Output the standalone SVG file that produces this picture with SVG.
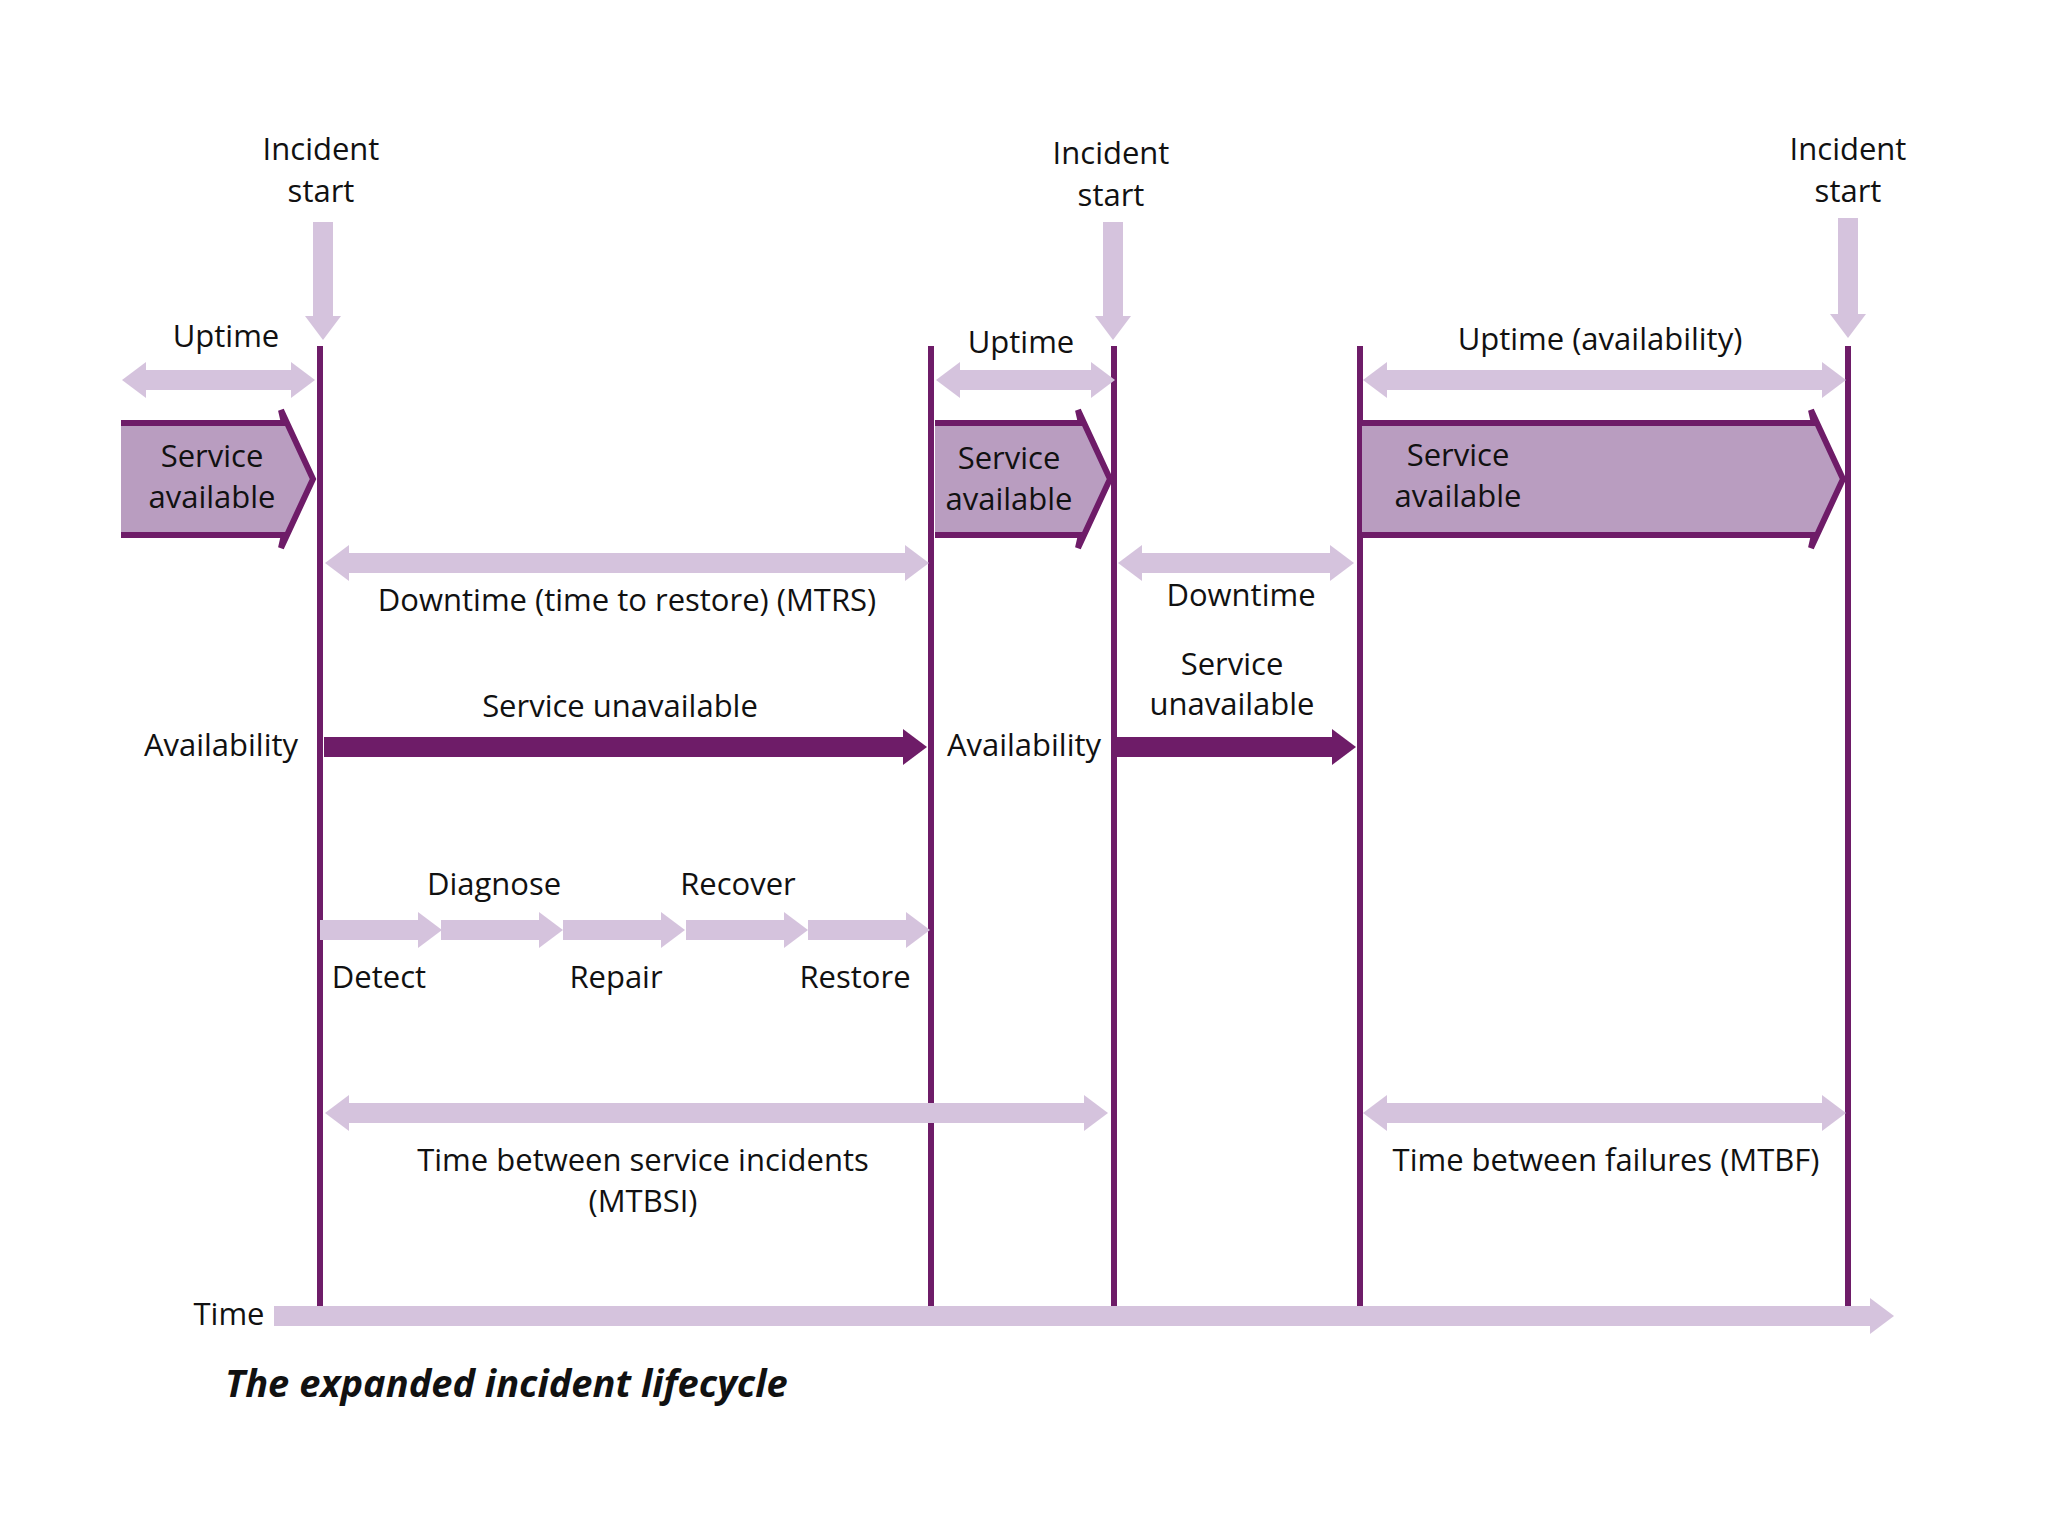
<svg xmlns="http://www.w3.org/2000/svg" width="2048" height="1536" viewBox="0 0 2048 1536">
<style>
text{font-family:"Open Sans","Liberation Sans",sans-serif;font-size:31px;fill:#111;text-anchor:middle}
.l{stroke:#d5c3dd;stroke-width:20;fill:none}
.d{stroke:#6e1c68;stroke-width:20;fill:none}
.v{stroke:#6e1c68;stroke-width:6}
.sa{fill:#b99dc0;stroke:#6e1c68;stroke-width:6}
</style>
<defs>
<marker id="lh" markerUnits="userSpaceOnUse" viewBox="0 0 24 36" refX="2" refY="18" markerWidth="24" markerHeight="36" orient="auto-start-reverse"><path d="M0,0 L24,18 L0,36 Z" fill="#d5c3dd"/></marker>
<marker id="dh" markerUnits="userSpaceOnUse" viewBox="0 0 24 36" refX="2" refY="18" markerWidth="24" markerHeight="36" orient="auto"><path d="M0,0 L24,18 L0,36 Z" fill="#6e1c68"/></marker>
</defs>
<rect width="2048" height="1536" fill="#fff"/>
<g id="verticals">
<line class="v" x1="320" y1="346" x2="320" y2="1306"/>
<line class="v" x1="931" y1="346" x2="931" y2="1306"/>
<line class="v" x1="1114" y1="346" x2="1114" y2="1306"/>
<line class="v" x1="1360" y1="346" x2="1360" y2="1306"/>
<line class="v" x1="1848" y1="346" x2="1848" y2="1306"/>
</g>
<g id="incidents">
<text x="321" y="160">Incident</text><text x="321" y="202">start</text>
<text x="1111" y="164">Incident</text><text x="1111" y="206">start</text>
<text x="1848" y="160">Incident</text><text x="1848" y="202">start</text>
</g>
<g id="connectors">
<line class="l" x1="323" y1="222" x2="323" y2="318" marker-end="url(#lh)"/>
<line class="l" x1="1113" y1="222" x2="1113" y2="318" marker-end="url(#lh)"/>
<line class="l" x1="1848" y1="218" x2="1848" y2="316" marker-end="url(#lh)"/>
<line class="l" x1="144" y1="380" x2="293" y2="380" marker-start="url(#lh)" marker-end="url(#lh)"/>
<line class="l" x1="958" y1="380" x2="1093" y2="380" marker-start="url(#lh)" marker-end="url(#lh)"/>
<line class="l" x1="1385" y1="380" x2="1824" y2="380" marker-start="url(#lh)" marker-end="url(#lh)"/>
<line class="l" x1="347" y1="563" x2="907" y2="563" marker-start="url(#lh)" marker-end="url(#lh)"/>
<line class="l" x1="1140" y1="563" x2="1332" y2="563" marker-start="url(#lh)" marker-end="url(#lh)"/>
<line class="d" x1="324" y1="747" x2="905" y2="747" marker-end="url(#dh)"/>
<line class="d" x1="1117" y1="747" x2="1334" y2="747" marker-end="url(#dh)"/>
<line class="l" x1="320" y1="930" x2="420" y2="930" marker-end="url(#lh)"/>
<line class="l" x1="441" y1="930" x2="541" y2="930" marker-end="url(#lh)"/>
<line class="l" x1="563" y1="930" x2="663" y2="930" marker-end="url(#lh)"/>
<line class="l" x1="686" y1="930" x2="786" y2="930" marker-end="url(#lh)"/>
<line class="l" x1="808" y1="930" x2="908" y2="930" marker-end="url(#lh)"/>
<line class="l" x1="347" y1="1113" x2="1086" y2="1113" marker-start="url(#lh)" marker-end="url(#lh)"/>
<line class="l" x1="1385" y1="1113" x2="1824" y2="1113" marker-start="url(#lh)" marker-end="url(#lh)"/>
<line class="l" x1="274" y1="1316" x2="1872" y2="1316" marker-end="url(#lh)"/>
</g>
<g id="svc1"><path class="sa" d="M121,423 H284 L281,410 L313,479 L281,548 L284,535 H121"/><text x="212" y="467">Service</text><text x="212" y="508">available</text></g>
<g id="svc2"><path class="sa" d="M935,423 H1081 L1078,410 L1110,479 L1078,548 L1081,535 H935"/><text x="1009" y="469">Service</text><text x="1009" y="510">available</text></g>
<g id="svc3"><path class="sa" d="M1362,423 H1814 L1811,410 L1843,479 L1811,548 L1814,535 H1362"/><text x="1458" y="466">Service</text><text x="1458" y="507">available</text></g>
<g id="labels">
<text x="226" y="347">Uptime</text>
<text x="1021" y="353">Uptime</text>
<text x="1600" y="350">Uptime (availability)</text>
<text x="627" y="611">Downtime (time to restore) (MTRS)</text>
<text x="1241" y="606">Downtime</text>
<text x="620" y="717">Service unavailable</text>
<text x="1232" y="675">Service</text><text x="1232" y="715">unavailable</text>
<text x="221" y="756">Availability</text>
<text x="1024" y="756">Availability</text>
<text x="494" y="895">Diagnose</text>
<text x="738" y="895">Recover</text>
<text x="379" y="988">Detect</text>
<text x="616" y="988">Repair</text>
<text x="855" y="988">Restore</text>
<text x="643" y="1171">Time between service incidents</text>
<text x="643" y="1212">(MTBSI)</text>
<text x="1606" y="1171">Time between failures (MTBF)</text>
<text x="229" y="1325">Time</text>
<text x="225" y="1397" style="text-anchor:start;font-weight:bold;font-style:italic;font-size:38px">The expanded incident lifecycle</text>
</g>
</svg>
